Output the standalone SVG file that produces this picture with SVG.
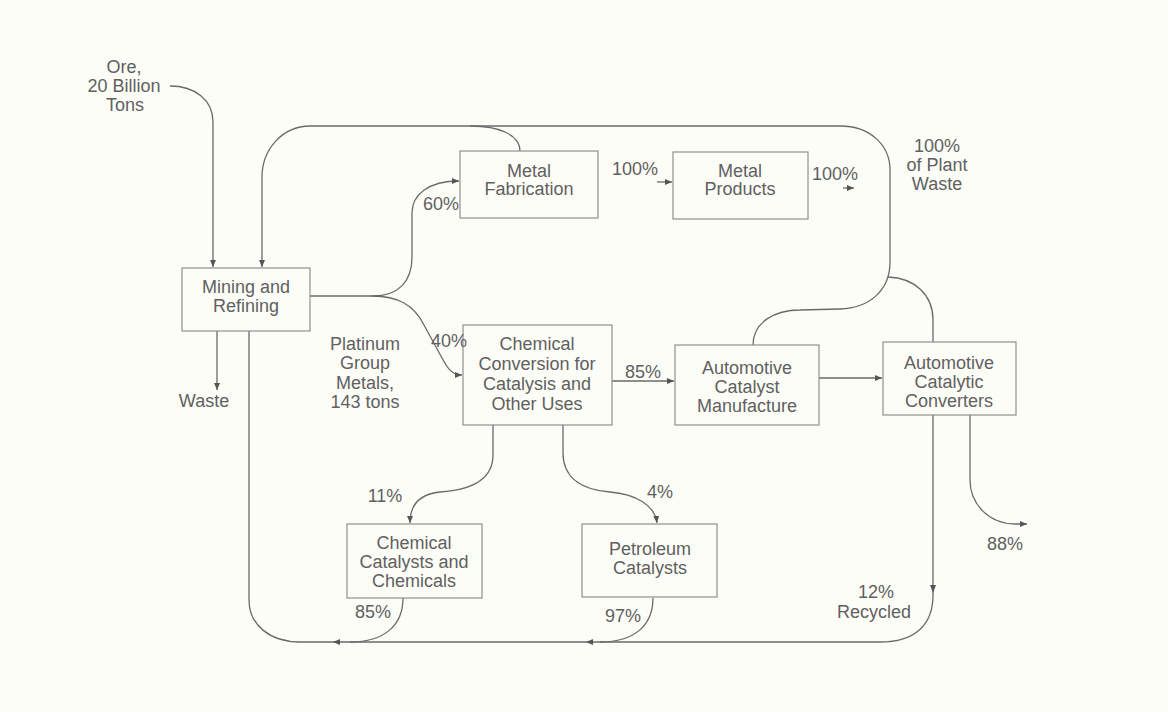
<svg xmlns="http://www.w3.org/2000/svg" width="1168" height="712" viewBox="0 0 1168 712">
<style>
  text { font-family: "Liberation Sans", Arial, sans-serif; font-size: 18px; fill: #606060; text-anchor: middle; }
  .box { fill: none; stroke: #909090; stroke-width: 1.2; }
  .ln { fill: none; stroke: #6a6a6a; stroke-width: 1.3; }
  .ah { fill: #555; }
</style>
<defs>
  <marker id="arr" markerUnits="userSpaceOnUse" markerWidth="8" markerHeight="7" refX="7" refY="3" orient="auto">
    <path d="M0,0 L7,3 L0,6 z" fill="#555"/>
  </marker>
</defs>
<rect x="0" y="0" width="1168" height="712" fill="#fdfdf8"/>

<g id="connectors">
  <path class="ln" d="M170,86 C195,86 213,100 213,122 V267" marker-end="url(#arr)"/>
  <path class="ln" d="M217,331 V390" marker-end="url(#arr)"/>
  <path class="ln" d="M310,296 H373 C398,296 412,282 412,257 V213 C412,195 428,181 459,181" marker-end="url(#arr)"/>
  <path class="ln" d="M372,296 C398,296 414,305 424,325 L442,358 C448,369 452,375 462,375" marker-end="url(#arr)"/>
  <path class="ln" d="M657,182 H672" marker-end="url(#arr)"/>
  <path class="ln" d="M843,188 H854" marker-end="url(#arr)"/>
  <path class="ln" d="M612,381 H674" marker-end="url(#arr)"/>
  <path class="ln" d="M819,378 H882" marker-end="url(#arr)"/>
  <path class="ln" d="M493,425 V455 C493,480 470,490 440,492 C420,494 410,505 410,523" marker-end="url(#arr)"/>
  <path class="ln" d="M563,425 V453 C563,480 585,490 610,492 C635,494 655,505 657,523" marker-end="url(#arr)"/>
  <path class="ln" d="M970,415 V480 C970,505 990,524 1015,524 H1027" marker-end="url(#arr)"/>
  <path class="ln" d="M753,345 C753,322 775,310 800,310 L840,309 C870,308 890,290 890,262 V170 C890,145 870,126 840,126 H310 C282,126 262,150 262,177 V267" marker-end="url(#arr)"/>
  <path class="ln" d="M933,342 V320 C933,295 915,278 888,277"/>
  <path class="ln" d="M520,151 C520,135 500,126 470,126"/>
  <path class="ln" d="M933,415 V595 C933,625 915,642 880,642 H300 C270,642 249,625 249,600 V331"/>
  <polygon class="ah" points="933,593 930,585 936,585"/>
  <path class="ln" d="M403,598 C403,625 385,642 350,642"/>
  <polygon class="ah" points="333,642 340,639 340,645"/>
  <path class="ln" d="M653,598 C653,625 635,642 600,642"/>
  <polygon class="ah" points="586,642 593,639 593,645"/>
</g>

<g id="node-ore">
  <text x="124" y="73">Ore,</text>
  <text x="124" y="92">20 Billion</text>
  <text x="125" y="111">Tons</text>
</g>
<g id="node-mining">
  <rect class="box" x="182" y="268" width="128" height="63"/>
  <text x="246" y="293">Mining and</text>
  <text x="246" y="312">Refining</text>
</g>
<g id="node-waste">
  <text x="204" y="407">Waste</text>
</g>
<g id="node-pgm">
  <text x="365" y="350">Platinum</text>
  <text x="365" y="369">Group</text>
  <text x="365" y="389">Metals,</text>
  <text x="365" y="408">143 tons</text>
</g>
<g id="node-metal-fab">
  <rect class="box" x="460" y="151" width="138" height="67"/>
  <text x="529" y="177">Metal</text>
  <text x="529" y="195">Fabrication</text>
</g>
<g id="node-metal-products">
  <rect class="box" x="673" y="152" width="135" height="67"/>
  <text x="740" y="177">Metal</text>
  <text x="740" y="195">Products</text>
</g>
<g id="node-plant-waste">
  <text x="937" y="152">100%</text>
  <text x="937" y="171">of Plant</text>
  <text x="937" y="190">Waste</text>
</g>
<g id="node-chem-conv">
  <rect class="box" x="463" y="325" width="149" height="100"/>
  <text x="537" y="350">Chemical</text>
  <text x="537" y="370">Conversion for</text>
  <text x="537" y="390">Catalysis and</text>
  <text x="537" y="410">Other Uses</text>
</g>
<g id="node-auto-catalyst">
  <rect class="box" x="675" y="345" width="144" height="80"/>
  <text x="747" y="374">Automotive</text>
  <text x="747" y="393">Catalyst</text>
  <text x="747" y="412">Manufacture</text>
</g>
<g id="node-converters">
  <rect class="box" x="883" y="342" width="133" height="73"/>
  <text x="949" y="369">Automotive</text>
  <text x="949" y="388">Catalytic</text>
  <text x="949" y="407">Converters</text>
</g>
<g id="node-chem-catalysts">
  <rect class="box" x="347" y="524" width="135" height="74"/>
  <text x="414" y="549">Chemical</text>
  <text x="414" y="568">Catalysts and</text>
  <text x="414" y="587">Chemicals</text>
</g>
<g id="node-petroleum">
  <rect class="box" x="582" y="524" width="135" height="73"/>
  <text x="650" y="555">Petroleum</text>
  <text x="650" y="574">Catalysts</text>
</g>
<g id="labels">
  <text x="441" y="210">60%</text>
  <text x="449" y="347">40%</text>
  <text x="635" y="175">100%</text>
  <text x="835" y="180">100%</text>
  <text x="643" y="378">85%</text>
  <text x="385" y="502">11%</text>
  <text x="660" y="498">4%</text>
  <text x="373" y="618">85%</text>
  <text x="623" y="622">97%</text>
  <text x="876" y="598">12%</text>
  <text x="874" y="618">Recycled</text>
  <text x="1005" y="550">88%</text>
</g>
</svg>
